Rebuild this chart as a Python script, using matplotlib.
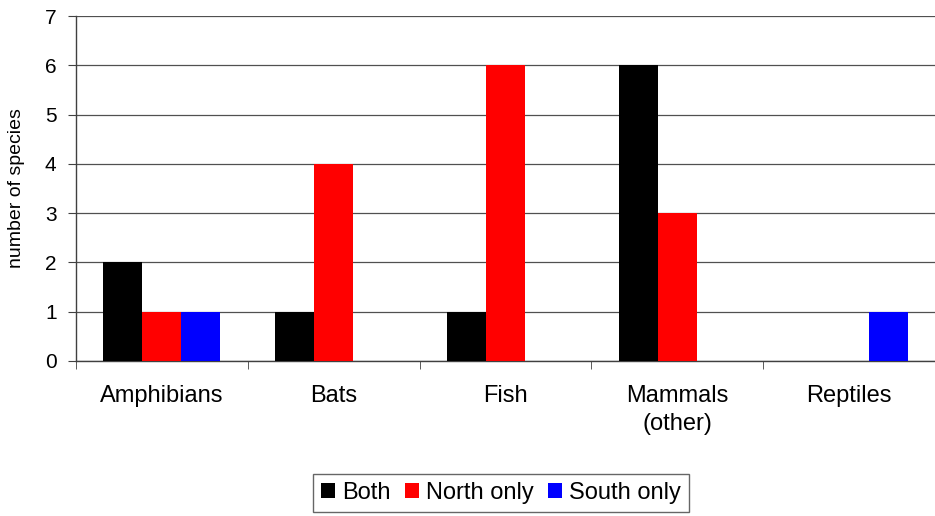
import matplotlib
matplotlib.use("Agg")
import matplotlib.pyplot as plt
import numpy as np

plt.rcParams['font.family'] = ['Liberation Sans', 'DejaVu Sans']

categories = ["Amphibians", "Bats", "Fish", "Mammals\n(other)", "Reptiles"]
series_names = ["Both", "North only", "South only"]
both = [2, 1, 1, 6, 0]
north_only = [1, 4, 6, 3, 0]
south_only = [1, 0, 0, 0, 1]
colors = ["#000000", "#ff0000", "#0000ff"]

fig = plt.figure(figsize=(9.35, 5.16), dpi=100)
ax = fig.add_axes([76 / 935, 1 - 361 / 516, 1 - 76 / 935, (361 - 16) / 516])

x = np.arange(len(categories))
width = 0.227
for i, (vals, name, c) in enumerate(zip([both, north_only, south_only], series_names, colors)):
    ax.bar(x + (i - 1) * width, vals, width, color=c, label=name, zorder=3)

ax.set_xlim(-0.5, len(categories) - 0.5)
ax.set_ylim(0, 7)
ax.set_yticks(range(0, 8))
ax.yaxis.grid(True, color="#505050", linewidth=0.9, zorder=0)
ax.set_axisbelow(True)

ax.set_xticks(x)
ax.set_xticklabels(categories, fontsize=17, linespacing=1.35, va="top")
ax.tick_params(axis="x", length=0, pad=17)
ax.set_xticks(np.arange(-0.5, len(categories), 1), minor=True)
ax.tick_params(axis="x", which="minor", length=6, color="#404040", direction="out")
ax.tick_params(axis="y", labelsize=15, length=6, color="#404040", pad=8)

for s in ["top", "right"]:
    ax.spines[s].set_visible(False)
for s in ["left", "bottom"]:
    ax.spines[s].set_color("#404040")
    ax.spines[s].set_linewidth(1.0)

ax.set_ylabel("number of species", fontsize=14)
ax.yaxis.set_label_coords(-0.059, 0.5)

leg = fig.legend(loc="center", bbox_to_anchor=(501 / 935, 1 - 493 / 516), ncol=3,
                 fontsize=17, frameon=True, fancybox=False, edgecolor="#404040",
                 handlelength=0.6, handleheight=0.6, handletextpad=0.3,
                 columnspacing=0.6, borderpad=0.35)
leg.get_frame().set_linewidth(1.0)

fig.savefig("out.png", dpi=100)
